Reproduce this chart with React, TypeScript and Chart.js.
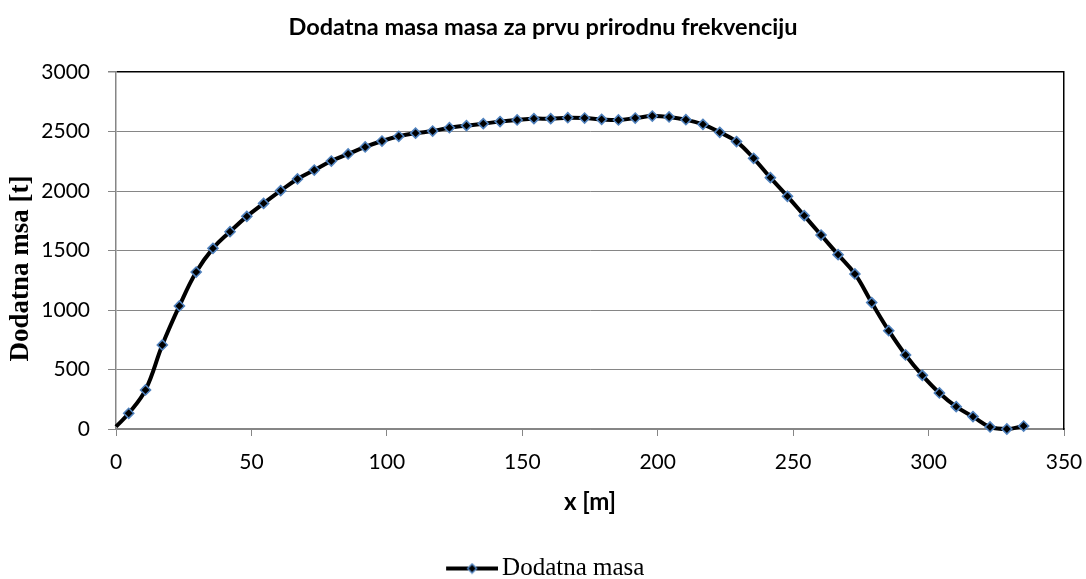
import React, { useEffect, useRef } from 'react';
import { Chart, registerables } from 'chart.js';

Chart.register(...registerables);

// x positions along the structure [m]
const xPositions = [
  0, 4.7, 10.9, 17.1, 23.4, 29.6, 35.8, 42.1, 48.3, 54.5, 60.8, 67.0, 73.2, 79.5,
  85.7, 92.0, 98.2, 104.4, 110.6, 116.9, 123.1, 129.4, 135.6, 141.8, 148.1, 154.3,
  160.5, 166.8, 173.0, 179.3, 185.5, 191.7, 198.0, 204.2, 210.4, 216.7, 222.9,
  229.1, 235.4, 241.6, 247.9, 254.1, 260.3, 266.6, 272.8, 279.0, 285.3, 291.5,
  297.7, 304.0, 310.2, 316.4, 322.7, 328.9, 335.1,
];

// Dodatna masa [t]
const dodatnaMasa = [
  20, 132, 328, 706, 1034, 1319, 1518, 1658, 1787, 1896, 2003, 2101, 2176, 2252,
  2311, 2370, 2420, 2460, 2486, 2504, 2532, 2549, 2566, 2583, 2597, 2608,
  2608, 2616, 2613, 2602, 2597, 2613, 2630, 2622, 2599, 2560, 2493,
  2415, 2275, 2112, 1955, 1793, 1630, 1465, 1303, 1062, 826, 622,
  451, 303, 188, 104, 17, 0, 25,
];

const chartTitle = 'Dodatna masa masa za prvu prirodnu frekvenciju';
const xAxisTitle = 'x [m]';
const yAxisTitle = 'Dodatna msa [t]';
const seriesLabel = 'Dodatna masa';
const xMin = 0;
const xMax = 350;
const xStep = 50;
const yMin = 0;
const yMax = 3000;
const yStep = 500;

export default function App() {
  const ref = useRef<HTMLCanvasElement>(null);

  useEffect(() => {
    const canvas = ref.current;
    if (!canvas) return;

    // legend symbol: line with diamond marker (transparent margin on the left)
    const legendImg = document.createElement('canvas');
    legendImg.width = 65;
    legendImg.height = 12;
    const g = legendImg.getContext('2d');
    if (g) {
      g.strokeStyle = '#000';
      g.lineWidth = 4;
      g.beginPath();
      g.moveTo(13, 6);
      g.lineTo(65, 6);
      g.stroke();
      const cx = 39;
      g.beginPath();
      g.moveTo(cx - 4.5, 6);
      g.lineTo(cx, 6 - 4.5);
      g.lineTo(cx + 4.5, 6);
      g.lineTo(cx, 6 + 4.5);
      g.closePath();
      g.fillStyle = '#000';
      g.fill();
      g.strokeStyle = '#4f81bd';
      g.lineWidth = 1.5;
      g.stroke();
    }

    const grey = '#868686';

    // the y-axis title in the reference sits a little below the plot centre
    const yTitleShift = {
      id: 'yTitleShift',
      afterLayout(ch: any) {
        const s = ch.scales.yT;
        if (s) {
          s.top += 18;
          s.bottom += 18;
        }
      },
    };

    const chart = new Chart(canvas, {
      type: 'line',
      data: {
        datasets: [
          {
            label: seriesLabel,
            data: xPositions.map((x, i) => ({ x, y: dodatnaMasa[i] })),
            borderColor: '#000',
            backgroundColor: '#000',
            borderWidth: 4,
            tension: 0.4,
            pointStyle: 'rectRot',
            pointRadius: (c: any) => (c.dataIndex === 0 ? 0 : 5),
            pointBackgroundColor: '#000',
            pointBorderColor: '#4f81bd',
            pointBorderWidth: 1.6,
            clip: 10,
            yAxisID: 'y',
            xAxisID: 'x',
          },
        ],
      },
      plugins: [yTitleShift],
      options: {
        responsive: false,
        animation: false,
        devicePixelRatio: 1,
        layout: { padding: { left: 0, right: 0, top: 0, bottom: -12 } },
        plugins: {
          title: {
            display: true,
            text: chartTitle,
            color: '#000',
            font: { family: 'Lato', size: 23.5, weight: 'bold' },
            padding: { top: 12.9, bottom: 30.9 },
          },
          legend: {
            display: true,
            position: 'bottom',
            labels: {
              usePointStyle: true,
              pointStyleWidth: 48,
              padding: 10,
              color: '#000',
              font: { family: 'Liberation Serif', size: 25 },
              generateLabels: (ch: any) =>
                Chart.defaults.plugins.legend.labels
                  .generateLabels(ch)
                  .map((it: any) => ({ ...it, pointStyle: legendImg, lineWidth: 0 })),
            },
          },
          tooltip: { enabled: false },
        },
        scales: {
          x: {
            type: 'linear',
            position: 'bottom',
            min: xMin,
            max: xMax,
            ticks: {
              stepSize: xStep,
              color: '#000',
              font: { family: 'Lato', size: 21 },
              padding: 13.4,
              maxRotation: 0,
              callback: (v: any) => String(v),
            },
            grid: { drawOnChartArea: false, color: grey, tickLength: 7, lineWidth: 1 },
            border: { color: grey, width: 1.5 },
            title: {
              display: true,
              text: xAxisTitle,
              color: '#000',
              font: { family: 'Lato', size: 24, weight: 'bold' },
              padding: { top: 0, bottom: 29.6 },
            },
            afterFit: (s: any) => {
              s.height = 117;
              s.paddingRight = 22;
            },
          },
          y: {
            type: 'linear',
            position: 'left',
            weight: 0,
            min: yMin,
            max: yMax,
            ticks: {
              stepSize: yStep,
              color: '#000',
              font: { family: 'Lato', size: 21 },
              padding: 18,
              callback: (v: any) => String(v),
            },
            grid: {
              color: (c: any) => (c.tick && c.tick.value === yMax ? '#000' : grey),
              lineWidth: (c: any) => (c.tick && c.tick.value === yMax ? 1.5 : 1),
              tickColor: grey,
              tickLength: 8,
            },
            border: { color: grey, width: 1.5 },
            afterFit: (s: any) => {
              s.width = 76;
            },
          },
          yT: {
            type: 'linear',
            position: 'left',
            weight: 5,
            ticks: { display: false },
            grid: { display: false, drawTicks: false },
            border: { display: false },
            title: {
              display: true,
              text: yAxisTitle,
              color: '#000',
              font: { family: 'Liberation Serif', size: 27, weight: 'bold' },
              padding: { top: 5, bottom: 0 },
            },
            afterFit: (s: any) => {
              s.width = 40;
            },
          },
          y2: {
            type: 'linear',
            position: 'right',
            ticks: { display: false },
            grid: { display: false, drawTicks: false },
            border: { display: true, color: '#000', width: 1.5 },
            afterFit: (s: any) => {
              s.width = 0;
            },
          },
        },
      } as any,
    });

    return () => chart.destroy();
  }, []);

  return (
    <div style={{ position: 'fixed', left: 0, top: 0, width: 1086, height: 579, background: '#fff' }}>
      <canvas ref={ref} width={1086} height={579} style={{ width: 1086, height: 579, display: 'block' }} />
    </div>
  );
}
